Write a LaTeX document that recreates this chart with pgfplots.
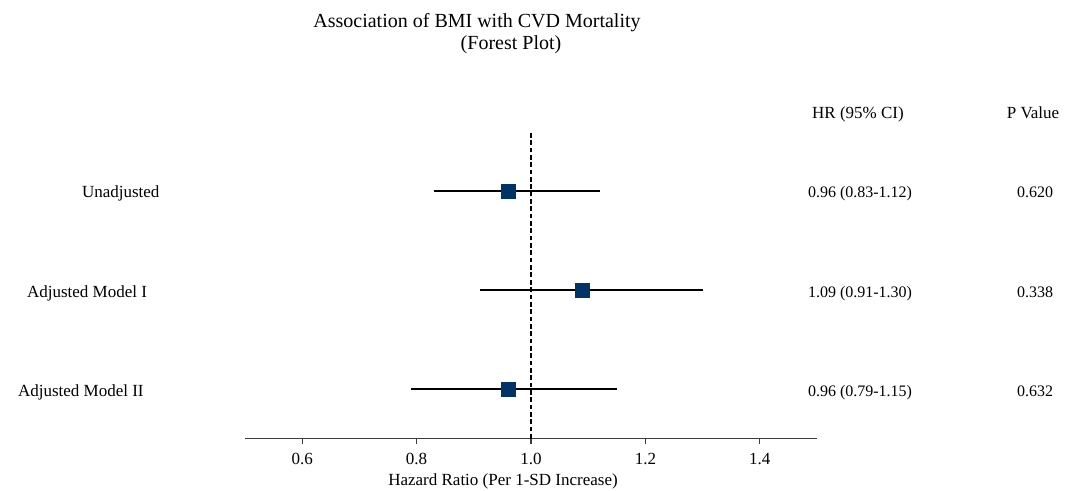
\documentclass[border=0pt]{standalone}
\usepackage{pgfplots}
\pgfplotsset{compat=1.18}
\usepackage{fontspec}
\setmainfont{Liberation Serif}
\definecolor{navy}{RGB}{0,51,102}
\definecolor{axgray}{RGB}{60,60,60}
\pgfplotstableread{
x y
0.83 3
1.12 3
nan nan
0.91 2
1.30 2
nan nan
0.79 1
1.15 1
}\citable
\pgfplotstableread{
x y
0.96 3
1.09 2
0.96 1
}\hrtable
\begin{document}
\begin{tikzpicture}
\begin{axis}[
  at={(183.75pt,-328.875pt)}, anchor=south west,
  scale only axis, width=429pt, height=228.75pt,
  xmin=0.5, xmax=1.5, ymin=0.5, ymax=3.58,
  axis x line=bottom, axis y line=none,
  axis line style={-, axgray, line width=0.9pt},
  xtick={0.6,0.8,1.0,1.2,1.4},
  tick align=outside, major tick length=3.75pt,
  tick style={axgray, line width=0.8pt},
  xticklabel style={/pgf/number format/fixed, /pgf/number format/precision=1, /pgf/number format/fixed zerofill, font=\fontsize{12.75}{15}\selectfont, yshift=-4pt},
  /pgf/number format/assume math mode=true,
  unbounded coords=jump,
  clip=false,
]
\addplot [black, line width=1.3pt] table {\citable};
\addplot [black, dash pattern=on 3.5pt off 2pt, line width=0.9pt] coordinates {(1,0.5) (1,3.58)};
\addplot [only marks, mark=square*, mark size=5.2pt, mark options={fill=navy, draw=navy}] table {\hrtable};
\end{axis}
\begin{scope}[x=0.75pt, y=-0.75pt, every node/.style={inner sep=0pt, outer sep=0pt}]
\path (0,0) rectangle (1066,491);
\node[anchor=base, font=\fontsize{15}{18}\selectfont] at (477,28) {Association of BMI with CVD Mortality};
\node[anchor=base, font=\fontsize{15}{18}\selectfont] at (511,50) {(Forest Plot)};
\begin{scope}[every node/.append style={font=\fontsize{12.75}{15}\selectfont}]
\node[anchor=base] at (858,118.5) {HR (95\% CI)};
\node[anchor=base] at (1033,118.5) {P Value};
\node[anchor=base west] at (82,198) {Unadjusted};
\node[anchor=base west] at (27,297) {Adjusted Model I};
\node[anchor=base west] at (18,396) {Adjusted Model II};
\node[anchor=base] at (503,485) {Hazard Ratio (Per 1-SD Increase)};
\end{scope}
\begin{scope}[every node/.append style={font=\fontsize{12}{14}\selectfont}]
\node[anchor=base] at (860,198) {0.96 (0.83-1.12)};
\node[anchor=base] at (860,297) {1.09 (0.91-1.30)};
\node[anchor=base] at (860,396) {0.96 (0.79-1.15)};
\node[anchor=base] at (1035,198) {0.620};
\node[anchor=base] at (1035,297) {0.338};
\node[anchor=base] at (1035,396) {0.632};
\end{scope}
\end{scope}
\pgfresetboundingbox
\path[use as bounding box] (0pt,0pt) rectangle (799.5pt,-368.25pt);
\end{tikzpicture}
\end{document}
